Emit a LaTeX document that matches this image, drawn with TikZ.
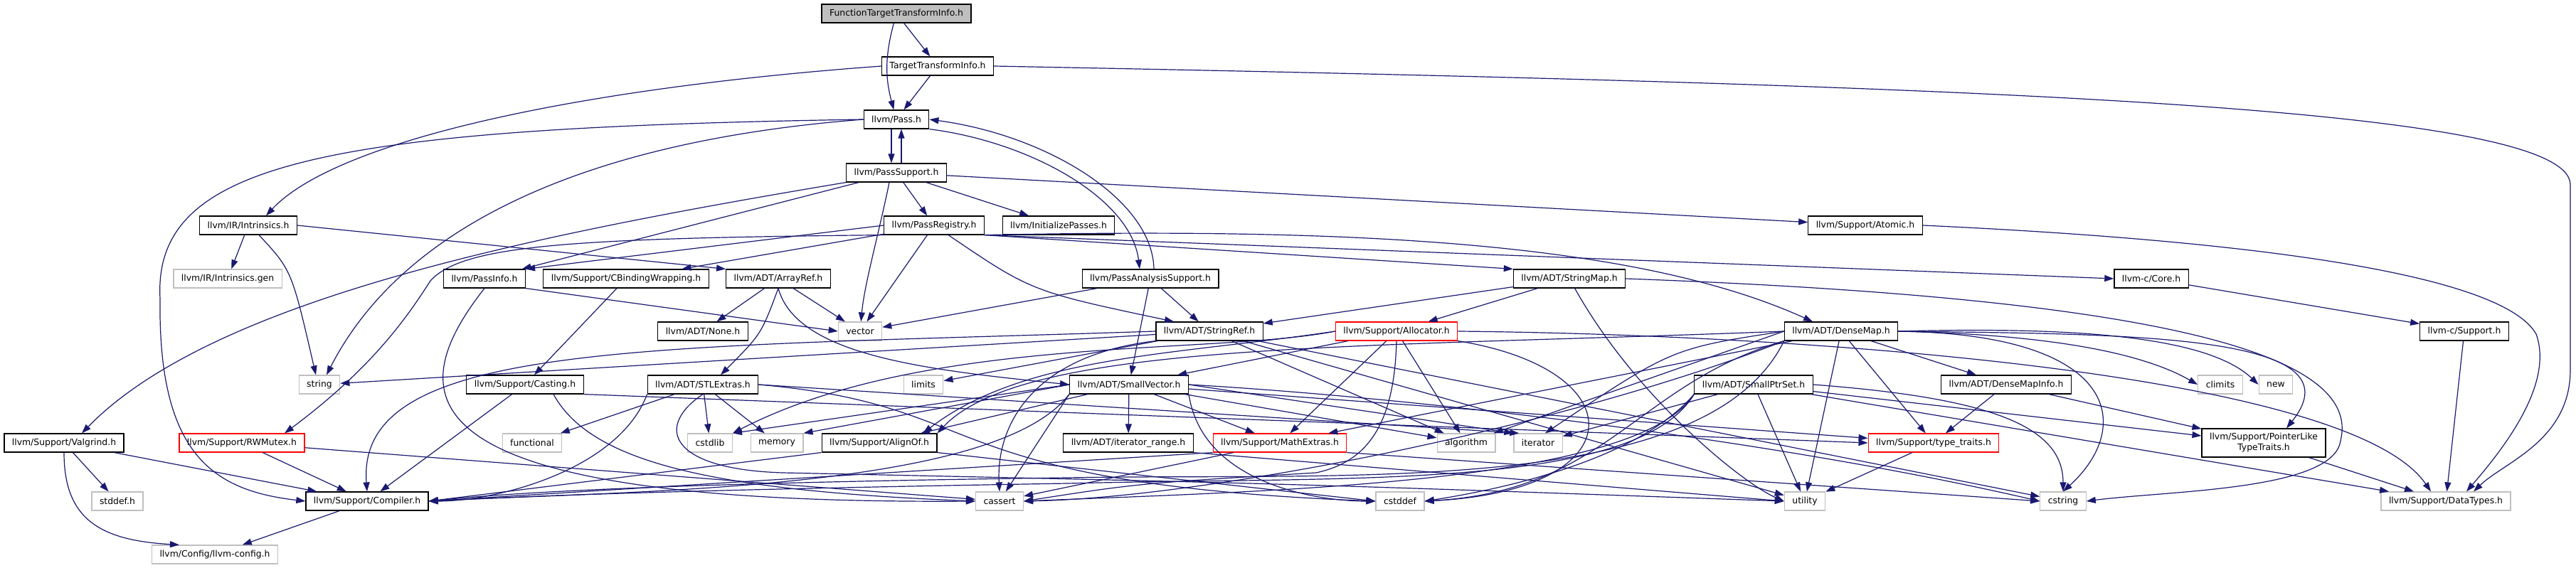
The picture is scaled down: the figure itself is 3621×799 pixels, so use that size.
\documentclass[tikz,border=0pt]{standalone}
\usepackage{fontspec}
\setmainfont{DejaVu Sans}
\usetikzlibrary{arrows.meta}
\definecolor{edgeblue}{HTML}{191970}
\definecolor{sysgray}{HTML}{BFBFBF}

\begin{document}
\begin{tikzpicture}[x=1pt, y=-1pt,
    file/.style={rectangle, draw=black, line width=1.2pt, minimum height=26pt,
                 inner xsep=11pt, inner ysep=2pt, align=center,
                 font=\fontsize{12.4}{15}\selectfont},
    root/.style={file, fill=sysgray},
    sys/.style={file, draw=sysgray},
    trunc/.style={file, draw=red},
    arrow/.style={-{Stealth[length=13pt, width=9pt, inset=0pt]}, edgeblue, line width=1.2pt},
]
    \useasboundingbox (0,0) rectangle (3621,799);
    \path[fill=white] (0,0) rectangle (3621,799);

    % Top of the graph
    \node[root] (root) at (1260,19) {FunctionTargetTransformInfo.h};
    \node[file] (tti) at (1318,93) {TargetTransformInfo.h};
    \node[file] (pass) at (1260,168) {llvm/Pass.h};
    \node[file] (passsupport) at (1260,243) {llvm/PassSupport.h};

    % Row 5
    \node[file] (intrinsics) at (349,317) {llvm/IR/Intrinsics.h};
    \node[file] (passreg) at (1313,317) {llvm/PassRegistry.h};
    \node[file] (initpasses) at (1488,317) {llvm/InitializePasses.h};
    \node[file] (atomic) at (2622,317) {llvm/Support/Atomic.h};

    % Row 6
    \node[sys] (intrgen) at (320,392) {llvm/IR/Intrinsics.gen};
    \node[file] (passinfo) at (681,392) {llvm/PassInfo.h};
    \node[file] (cbinding) at (880,392) {llvm/Support/CBindingWrapping.h};
    \node[file] (arrayref) at (1094,392) {llvm/ADT/ArrayRef.h};
    \node[file] (pas) at (1617,392) {llvm/PassAnalysisSupport.h};
    \node[file] (stringmap) at (2206,392) {llvm/ADT/StringMap.h};
    \node[file] (corec) at (3024,392) {llvm-c/Core.h};

    % Row 7
    \node[file] (none) at (988,466) {llvm/ADT/None.h};
    \node[sys] (vector) at (1209,466) {vector};
    \node[file] (stringref) at (1700,466) {llvm/ADT/StringRef.h};
    \node[trunc] (allocator) at (1963,466) {llvm/Support/Allocator.h};
    \node[file] (densemap) at (2588,466) {llvm/ADT/DenseMap.h};
    \node[file] (supportc) at (3464,466) {llvm-c/Support.h};

    % Row 8
    \node[sys] (string) at (449,541) {string};
    \node[file] (casting) at (738,541) {llvm/Support/Casting.h};
    \node[file] (stlextras) at (988,541) {llvm/ADT/STLExtras.h};
    \node[sys] (limits) at (1298,541) {limits};
    \node[file] (smallvector) at (1587,541) {llvm/ADT/SmallVector.h};
    \node[file] (smallptrset) at (2465,541) {llvm/ADT/SmallPtrSet.h};
    \node[file] (densemapinfo) at (2820,541) {llvm/ADT/DenseMapInfo.h};
    \node[sys] (climits) at (3121,541) {climits};
    \node[sys] (new) at (3199,541) {new};

    % Row 9
    \node[file] (valgrind) at (90,623) {llvm/Support/Valgrind.h};
    \node[trunc] (rwmutex) at (340,623) {llvm/Support/RWMutex.h};
    \node[sys] (functional) at (748,623) {functional};
    \node[sys] (cstdlib) at (998,623) {cstdlib};
    \node[sys] (memory) at (1092,623) {memory};
    \node[file] (alignof) at (1236,623) {llvm/Support/AlignOf.h};
    \node[file] (iterrange) at (1586,623) {llvm/ADT/iterator\_range.h};
    \node[trunc] (mathextras) at (1799,623) {llvm/Support/MathExtras.h};
    \node[sys] (algorithm) at (2061,623) {algorithm};
    \node[sys] (iterator) at (2162,623) {iterator};
    \node[trunc] (typetraits) at (2718,623) {llvm/Support/type\_traits.h};
    \node[file, minimum height=40pt] (ptrlike) at (3182,623) {llvm/Support/PointerLike\\TypeTraits.h};

    % Row 10
    \node[sys] (stddef) at (165,705) {stddef.h};
    \node[file] (compiler) at (516,705) {llvm/Support/Compiler.h};
    \node[sys] (cassert) at (1405,705) {cassert};
    \node[sys] (cstddef) at (1968,705) {cstddef};
    \node[sys] (utility) at (2537,705) {utility};
    \node[sys] (cstring) at (2900,705) {cstring};
    \node[sys] (datatypes) at (3438,705) {llvm/Support/DataTypes.h};

    % Bottom
    \node[sys] (llvmconfig) at (302,780) {llvm/Config/llvm-config.h};

    % Root and TargetTransformInfo.h
    \draw[arrow] (root) to[bend right=15] (pass);
    \draw[arrow] (root) -- (tti);
    \draw[arrow] (tti) -- (pass);
    \draw[arrow] (tti.west) .. controls (800,125) and (470,200) .. ([xshift=25pt]intrinsics.north);
    \draw[arrow] (tti.east) .. controls (2800,120) and (3613,150) .. (3613,260) -- (3613,520)
        .. controls (3613,620) and (3520,650) .. ([xshift=39pt]datatypes.north);

    % Pass.h
    \draw[arrow] ([xshift=-7pt]pass.south) -- ([xshift=-7pt]passsupport.north);
    \draw[arrow] ([xshift=7pt]passsupport.north) -- ([xshift=7pt]pass.south);
    \draw[arrow] (pass.south east) .. controls (1450,200) and (1590,280) .. ([xshift=-15pt]pas.north);
    \draw[arrow] ([xshift=5pt]pas.north) .. controls (1620,280) and (1470,190) .. (pass.east);
    \draw[arrow] (pass.west) .. controls (800,200) and (560,330) .. ([xshift=10pt]string.north);
    \draw[arrow] (pass.west) .. controls (450,180) and (215,230) .. (225,420)
        .. controls (222,640) and (300,690) .. (compiler.west);

    % PassSupport.h
    \draw[arrow] (passsupport) -- (passreg);
    \draw[arrow] (passsupport) -- (initpasses);
    \draw[arrow] (passsupport) -- (atomic);
    \draw[arrow] ([xshift=-10pt]passsupport.south) .. controls (1235,330) and (1215,400) .. (vector);
    \draw[arrow] (passsupport) -- (passinfo);
    \draw[arrow] (passsupport.south west) .. controls (750,330) and (300,420) .. ([xshift=25pt]valgrind.north);

    % PassAnalysisSupport.h
    \draw[arrow] (pas) -- (smallvector);
    \draw[arrow] (pas) -- (stringref);
    \draw[arrow] (pas) -- (vector);

    % Intrinsics.h
    \draw[arrow] (intrinsics) -- (intrgen);
    \draw[arrow] ([xshift=15pt]intrinsics.south) .. controls (410,380) .. ([xshift=-5pt]string.north);
    \draw[arrow] (intrinsics.east) -- (arrayref.north west);

    % PassRegistry.h
    \draw[arrow] (passreg.south east) -- (corec.west);
    \draw[arrow] (passreg.south east) .. controls (1900,320) and (2300,340) .. ([xshift=-40pt]densemap.north);
    \draw[arrow] (passreg.south east) -- (stringmap.north west);
    \draw[arrow] (passreg) .. controls (1450,410) .. ([xshift=-50pt]stringref.north);
    \draw[arrow] (passreg.west) -- (passinfo.north east);
    \draw[arrow] (passreg) -- (cbinding);
    \draw[arrow] (passreg) -- (vector);
    \draw[arrow] (passreg.south west) .. controls (800,335) and (650,345) .. (605,395)
        .. controls (570,450) and (520,520) .. ([xshift=60pt]rwmutex.north);

    % PassInfo.h, CBindingWrapping.h, ArrayRef.h
    \draw[arrow] (passinfo.south east) -- (vector.west);
    \draw[arrow] (passinfo.south) .. controls (560,560) and (560,710) .. (cassert.west);
    \draw[arrow] (cbinding) -- (casting);
    \draw[arrow] (arrayref) -- (none);
    \draw[arrow] (arrayref.south) .. controls (1070,470) .. ([xshift=25pt]stlextras.north);
    \draw[arrow] (arrayref) -- (vector);
    \draw[arrow] (arrayref.south) .. controls (1120,500) and (1300,520) .. (smallvector.west);

    % Atomic.h, StringMap.h, llvm-c
    \draw[arrow] (atomic.east) .. controls (3200,340) and (3520,390) .. (3565,470)
        .. controls (3590,540) and (3520,630) .. ([xshift=29pt]datatypes.north);
    \draw[arrow] (stringmap) -- (stringref);
    \draw[arrow] (stringmap) -- (allocator);
    \draw[arrow] (stringmap.east) .. controls (3050,420) and (3320,500) .. (3290,620)
        .. controls (3280,690) and (3050,690) .. (cstring.east);
    \draw[arrow] (stringmap) .. controls (2300,560) and (2450,680) .. (utility.west);
    \draw[arrow] (corec) -- (supportc);
    \draw[arrow] (supportc) -- (datatypes);

    % StringRef.h
    \draw[arrow] (stringref) -- (string);
    \draw[arrow] (stringref) -- (limits);
    \draw[arrow] (stringref) -- (algorithm);
    \draw[arrow] (stringref.south west) .. controls (1450,500) and (1400,600) .. (cassert.north);
    \draw[arrow] (stringref) -- (cstring);
    \draw[arrow] (stringref) -- (utility);
    \draw[arrow] (stringref.west) .. controls (900,490) and (500,480) .. (compiler.north);

    % Allocator.h
    \draw[arrow] (allocator) -- (smallvector);
    \draw[arrow] (allocator) -- (mathextras);
    \draw[arrow] (allocator) -- (algorithm);
    \draw[arrow] (allocator.south) .. controls (1960,600) and (1920,650) .. (1850,665)
        .. controls (1600,680) .. (cassert.east);
    \draw[arrow] (allocator.west) .. controls (1700,500) and (1300,470) .. (cstdlib.north east);
    \draw[arrow] (allocator.west) .. controls (1650,500) and (1440,500) .. ([xshift=-20pt]alignof.north east);
    \draw[arrow] (allocator.east) .. controls (2500,470) and (3300,520) .. ([xshift=-21pt]datatypes.north);
    \draw[arrow] (allocator.south east) .. controls (2300,520) and (2300,690) .. (cstddef.east);

    % DenseMap.h
    \draw[arrow] (densemap) -- (densemapinfo);
    \draw[arrow] (densemap.east) .. controls (3000,470) and (3320,470) .. ([xshift=32pt]ptrlike.north);
    \draw[arrow] (densemap) -- (typetraits);
    \draw[arrow] (densemap.east) .. controls (2850,470) and (3000,490) .. (climits.west);
    \draw[arrow] (densemap.east) .. controls (2900,460) and (3100,470) .. (new.west);
    \draw[arrow] (densemap.west) .. controls (2350,490) .. ([xshift=10pt]iterator.north);
    \draw[arrow] (densemap) -- (utility);
    \draw[arrow] (densemap.east) .. controls (2980,470) and (3000,600) .. (cstring.north);
    \draw[arrow] (densemap.south west) .. controls (2300,540) and (2260,690) .. (cstddef.east);
    \draw[arrow] (densemap.west) -- (algorithm);
    \draw[arrow] (densemap.south west) .. controls (2200,600) and (1700,700) .. (cassert.east);
    \draw[arrow] (densemap) -- (mathextras);
    \draw[arrow] (densemap.west) .. controls (1900,490) and (1440,480) .. (alignof.north east);
    \draw[arrow] (densemap.south west) .. controls (2400,700) and (1900,665) .. (1500,672)
        .. controls (900,680) and (700,695) .. (compiler.east);
    \draw[arrow] (densemapinfo) -- (ptrlike);
    \draw[arrow] (densemapinfo) -- (typetraits);

    % SmallPtrSet.h
    \draw[arrow] (smallptrset.south west) .. controls (2300,690) and (1900,670) .. (1500,680)
        .. controls (900,690) and (700,700) .. (compiler.east);
    \draw[arrow] (smallptrset) -- ([xshift=-80pt]datatypes.north);
    \draw[arrow] (smallptrset) -- (ptrlike);
    \draw[arrow] (smallptrset.south west) .. controls (2300,680) and (1800,690) .. (cassert.east);
    \draw[arrow] (smallptrset.south west) .. controls (2300,650) and (2100,690) .. (cstddef.east);
    \draw[arrow] (smallptrset.east) .. controls (2800,560) and (2900,600) .. (cstring.north);
    \draw[arrow] (smallptrset) -- (iterator);
    \draw[arrow] (smallptrset) -- (utility);

    % SmallVector.h
    \draw[arrow] (smallvector) -- (alignof);
    \draw[arrow] (smallvector.south west) .. controls (1400,690) and (900,690) .. (compiler.east);
    \draw[arrow] (smallvector) -- (mathextras);
    \draw[arrow] (smallvector) -- (iterrange);
    \draw[arrow] (smallvector) -- (typetraits);
    \draw[arrow] (smallvector) -- (algorithm);
    \draw[arrow] (smallvector.south west) -- (cassert);
    \draw[arrow] (smallvector.south east) .. controls (1690,680) and (1850,705) .. (cstddef.west);
    \draw[arrow] (smallvector.west) -- (cstdlib.north east);
    \draw[arrow] (smallvector.west) -- (memory.north east);
    \draw[arrow] (smallvector.east) .. controls (2000,560) and (2500,620) .. (cstring.west);
    \draw[arrow] (smallvector.east) -- (iterator.north west);

    % STLExtras.h
    \draw[arrow] (stlextras) -- (cstdlib);
    \draw[arrow] (stlextras) -- (memory);
    \draw[arrow] (stlextras) -- (functional);
    \draw[arrow] (stlextras.south west) .. controls (870,660) and (700,705) .. (compiler.east);
    \draw[arrow] (stlextras.east) .. controls (1400,570) and (1300,680) .. (cstddef.west);
    \draw[arrow] (stlextras.east) -- ([xshift=8pt]iterator.north west);
    \draw[arrow] (stlextras.south) .. controls (920,600) and (940,660) .. (1100,665)
        .. controls (1800,680) .. (utility.west);

    % Casting.h
    \draw[arrow] (casting) -- (compiler);
    \draw[arrow] ([xshift=40pt]casting.south) .. controls (830,650) and (1000,690) .. (cassert.west);
    \draw[arrow] (casting.south east) -- (typetraits.west);

    % Lower rows
    \draw[arrow] (valgrind.south) .. controls (90,730) and (140,760) .. ([xshift=-50pt]llvmconfig.north);
    \draw[arrow] (valgrind) -- (compiler);
    \draw[arrow] (valgrind) -- (stddef);
    \draw[arrow] (rwmutex) -- (compiler);
    \draw[arrow] (rwmutex) -- (cassert);
    \draw[arrow] (compiler) -- (llvmconfig);
    \draw[arrow] (alignof.south west) -- (compiler.east);
    \draw[arrow] (alignof.south east) -- (cstddef.west);
    \draw[arrow] (iterrange.south east) -- (utility.west);
    \draw[arrow] (mathextras.south west) -- (compiler.east);
    \draw[arrow] (mathextras) -- (cassert);
    \draw[arrow] (mathextras.south east) -- (cstring.west);
    \draw[arrow] (typetraits) -- (utility);
    \draw[arrow] (ptrlike) -- ([xshift=-45pt]datatypes.north);
\end{tikzpicture}
\end{document}
